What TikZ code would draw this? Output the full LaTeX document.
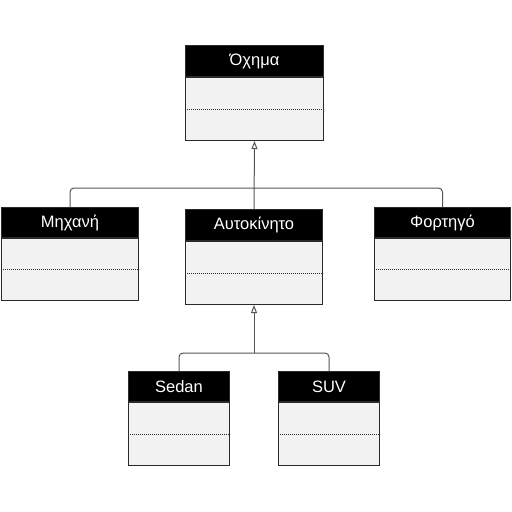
\documentclass[tikz,border=0pt]{standalone}
\usepackage{fontspec}
\setmainfont{Liberation Sans}
\usetikzlibrary{arrows.meta}
\definecolor{bodyfill}{HTML}{F2F2F2}
\definecolor{boxedge}{HTML}{2A2A2A}
\definecolor{wire}{HTML}{555555}
\begin{document}
\begin{tikzpicture}[x=1pt,y=-1pt,
  head/.style={draw=boxedge, line width=1pt, fill=black, text=white, anchor=north west, inner sep=0pt, font=\fontsize{16.5}{19}\selectfont},
  classbody/.style={draw=boxedge, line width=1pt, fill=bodyfill, anchor=north, inner sep=0pt},
  sepline/.style={draw=boxedge, line width=0.8pt, dash pattern=on 1.2pt off 0.8pt},
  conn/.style={draw=wire, line width=1pt},
  inherit/.style={conn, -{Triangle[open, length=8pt, width=6pt]}}]
\useasboundingbox (0,0) rectangle (512,512);
% classes
\node[head, minimum width=138pt, minimum height=31pt] (ochima) at (185,45) {Όχημα};
\node[classbody, minimum width=138pt, minimum height=63pt] (ochimaB) at (ochima.south) {};
\draw[sepline] (ochimaB.west) -- (ochimaB.east);

\node[head, minimum width=137pt, minimum height=30pt] (mech) at (1,207) {Μηχανή};
\node[classbody, minimum width=137pt, minimum height=62pt] (mechB) at (mech.south) {};
\draw[sepline] (mechB.west) -- (mechB.east);

\node[head, minimum width=137pt, minimum height=31pt] (car) at (185,209) {Αυτοκίνητο};
\node[classbody, minimum width=137pt, minimum height=63pt] (carB) at (car.south) {};
\draw[sepline] (carB.west) -- (carB.east);

\node[head, minimum width=136pt, minimum height=30pt] (truck) at (374,207) {Φορτηγό};
\node[classbody, minimum width=136pt, minimum height=62pt] (truckB) at (truck.south) {};
\draw[sepline] (truckB.west) -- (truckB.east);

\node[head, minimum width=101pt, minimum height=30pt] (sedan) at (128,371) {Sedan};
\node[classbody, minimum width=101pt, minimum height=63pt] (sedanB) at (sedan.south) {};
\draw[sepline] (sedanB.west) -- (sedanB.east);

\node[head, minimum width=101pt, minimum height=30pt] (suv) at (278,371) {SUV};
\node[classbody, minimum width=101pt, minimum height=63pt] (suvB) at (suv.south) {};
\draw[sepline] (suvB.west) -- (suvB.east);

% connectors
\coordinate (j1) at (254,188);
\coordinate (j2) at (254,353);
\draw[inherit] (car.north) -- (ochimaB.south);
\draw[conn, rounded corners=4pt] (mech.north) |- (j1);
\draw[conn, rounded corners=4pt] (truck.north) |- (j1);
\draw[inherit] (j2) -- (carB.south);
\draw[conn, rounded corners=4pt] (sedan.north) |- (j2);
\draw[conn, rounded corners=4pt] (suv.north) |- (j2);
\end{tikzpicture}
\end{document}
